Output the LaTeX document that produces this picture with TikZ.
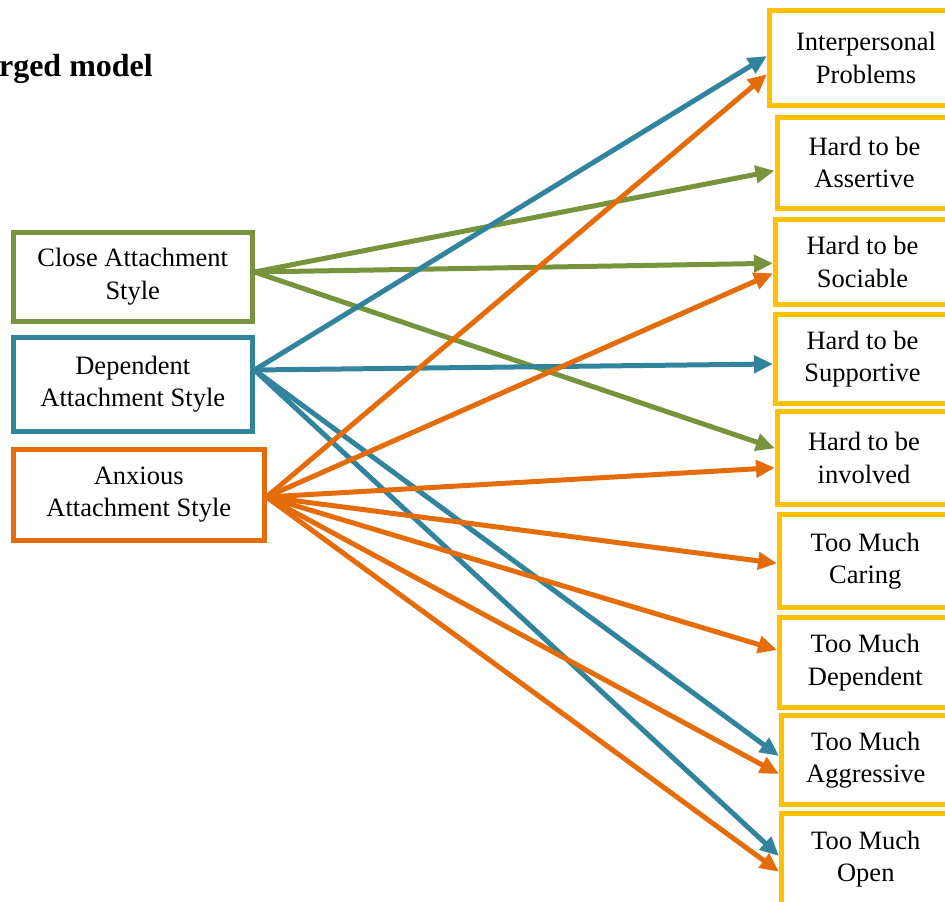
\documentclass[tikz,border=0pt]{standalone}
\usepackage{fontspec}
\setmainfont{Liberation Serif}
\usetikzlibrary{arrows.meta}
\definecolor{cgreen}{HTML}{77933C}
\definecolor{cblue}{HTML}{31849B}
\definecolor{corange}{HTML}{E46C0A}
\definecolor{cgold}{HTML}{FFC000}
\tikzset{
  box/.style={draw, line width=5pt, inner sep=0pt, align=center,
    font=\fontsize{26.5}{32.5}\selectfont},
  lbox/.style={box},
  rbox/.style={box, draw=cgold},
  conn/.style={line width=5pt, -{Triangle[length=19pt,width=17pt]}},
  gconn/.style={conn, draw=cgreen, fill=cgreen},
  bconn/.style={conn, draw=cblue, fill=cblue},
  oconn/.style={conn, draw=corange, fill=corange},
}
\begin{document}
\begin{tikzpicture}[x=1pt,y=-1pt]
\useasboundingbox (0,0) rectangle (945,902);
% title
\node[anchor=base east, inner sep=0pt, font=\fontsize{32}{38}\selectfont\bfseries] (title) at (153,76) {rged model};
% left boxes
\node[lbox, draw=cgreen, minimum width=238.5pt, minimum height=89pt] (close) at (132.75,276.5) {Close Attachment\\Style};
\node[lbox, draw=cblue, minimum width=238.5pt, minimum height=93.5pt] (dep) at (132.75,384.25) {Dependent\\Attachment Style};
\node[lbox, draw=corange, minimum width=250.5pt, minimum height=90.5pt] (anx) at (138.75,494.75) {Anxious\\Attachment Style};
% right boxes
\node[rbox, minimum width=193pt, minimum height=94.5pt] (inter) at (866,57.75) {Interpersonal\\Problems};
\node[rbox, minimum width=175pt, minimum height=91pt] (assert) at (864.5,162.5) {Hard to be\\Assertive};
\node[rbox, minimum width=174pt, minimum height=85pt] (soc) at (862.5,262) {Hard to be\\Sociable};
\node[rbox, minimum width=174pt, minimum height=89pt] (sup) at (862.5,359) {Hard to be\\Supportive};
\node[rbox, minimum width=173pt, minimum height=93pt] (inv) at (864,458) {Hard to be\\involved};
\node[rbox, minimum width=171.6pt, minimum height=93pt] (car) at (865.3,561) {Too Much\\Caring};
\node[rbox, minimum width=171.6pt, minimum height=90pt] (tdep) at (865.3,662.5) {Too Much\\Dependent};
\node[rbox, minimum width=168.6pt, minimum height=89pt] (agg) at (865.8,760) {Too Much\\Aggressive};
\node[rbox, minimum width=168.6pt, minimum height=91pt] (open) at (865.8,859) {Too Much\\Open};
% origins
\coordinate (co) at ([yshift=4.5pt]close.east);
\coordinate (do) at ([yshift=14.25pt]dep.east);
\coordinate (ao) at ([yshift=-2.25pt]anx.east);
% green connectors
\draw[gconn] (co) -- ([yshift=-8.2pt]assert.west);
\draw[gconn] (co) -- ([yshift=-1.3pt]soc.west);
\draw[gconn] (co) -- ([yshift=9.7pt]inv.west);
% blue connectors
\draw[bconn] (do) -- ([yshift=1.75pt]inter.west);
\draw[bconn] (do) -- ([yshift=-5pt]sup.west);
\draw[bconn] (do) -- ([yshift=4pt]agg.west);
\draw[bconn] (do) -- ([yshift=3pt]open.west);
% orange connectors
\draw[oconn] (ao) -- ([yshift=-16.5pt]inter.west);
\draw[oconn] (ao) -- ([yshift=-11.3pt]soc.west);
\draw[oconn] (ao) -- ([yshift=-9.7pt]inv.west);
\draw[oconn] (ao) -- ([yshift=-2.3pt]car.west);
\draw[oconn] (ao) -- ([yshift=12.5pt]tdep.west);
\draw[oconn] (ao) -- ([yshift=-14pt]agg.west);
\draw[oconn] (ao) -- ([yshift=-12.7pt]open.west);
\end{tikzpicture}
\end{document}
